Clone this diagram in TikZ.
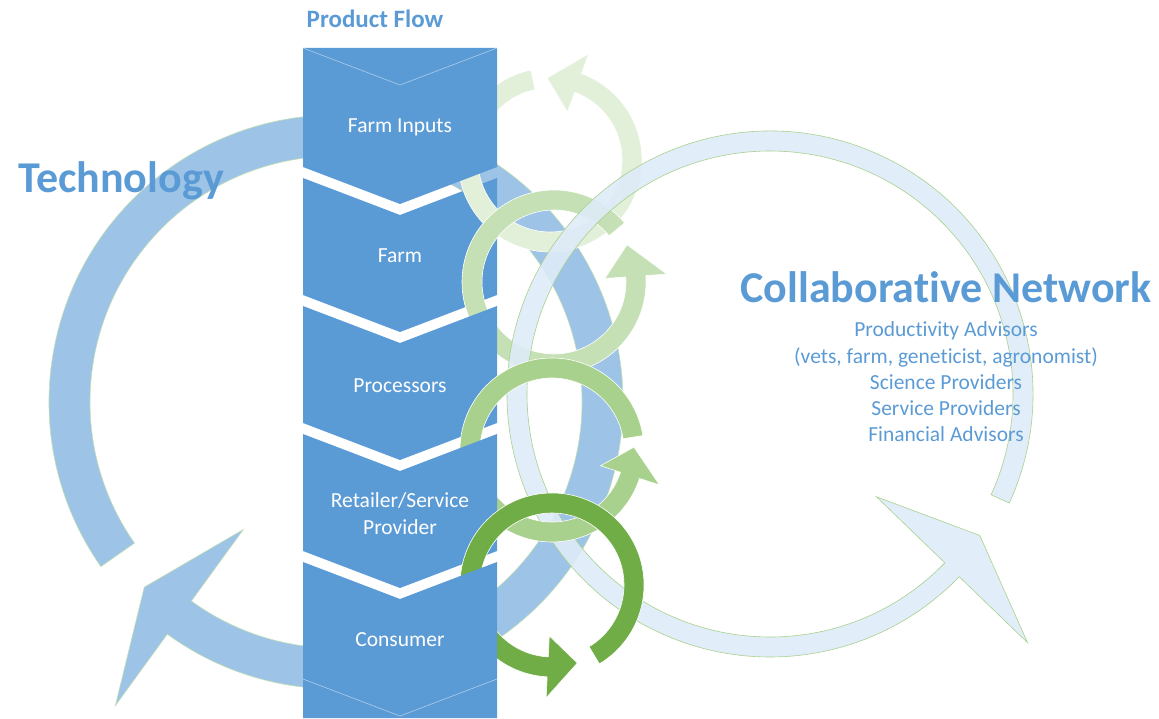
\documentclass[tikz,border=0pt]{standalone}
\usepackage{fontspec}
\setmainfont{Carlito}[Ligatures=NoCommon]
\usetikzlibrary{positioning}

\definecolor{flowblue}{HTML}{5B9BD5}
\definecolor{techblue}{HTML}{9DC3E6}
\definecolor{netblue}{HTML}{DEEBF7}
\definecolor{green1}{HTML}{E2F0D9}
\definecolor{green2}{HTML}{C5E0B4}
\definecolor{green3}{HTML}{A9D18E}
\definecolor{green4}{HTML}{70AD47}

% one step of the product flow, #1 = y of its upper corners
\newcommand{\flowstep}[1]{%
  \fill[stepfill] (303,#1) -- (400,#1-37) -- (497,#1) -- (497,#1-117)
    -- (400,#1-154) -- (303,#1-117) -- cycle;}

% ring with arrow head: style, centre, radius, half width, tail, base, tip, barb
\newcommand{\cyclearrow}[8]{%
  \path[#1, shift={(#2)}] (#5:#3+#4) arc[start angle=#5, end angle=#6, radius=#3+#4]
    -- (#6:#3+#8) -- (#7:#3) -- (#6:#3-#8) -- (#6:#3-#4)
    arc[start angle=#6, end angle=#5, radius=#3-#4] -- cycle;}

\begin{document}
\begin{tikzpicture}[x=1pt, y=1pt,
  stepfill/.style={fill=flowblue},
  stepedge/.style={draw=white, draw opacity=0.5, line width=0.6pt},
  steplabel/.style={text=white, inner sep=0pt, align=center,
    font=\fontsize{21.5}{27}\selectfont},
  techring/.style={fill=techblue, draw=green2, line width=0.6pt},
  netring/.style={fill=netblue, fill opacity=0.9, draw=green3, line width=0.6pt},
  greenring/.style={fill=#1, draw=white, line width=0.6pt},
  heading/.style={text=flowblue, inner sep=0pt,
    font=\bfseries\fontsize{44}{50}\selectfont},
  flowtitle/.style={text=flowblue, inner sep=0pt,
    font=\bfseries\fontsize{25}{30}\selectfont},
  member/.style={text=flowblue, inner sep=0pt, text height=15.5pt, text depth=5pt,
    font=\fontsize{21.5}{26}\selectfont},
  node distance=5.2pt]
 \useasboundingbox (0,0) rectangle (1159,718);

 % technology cycle
 \cyclearrow{techring}{336,316}{266.5}{20.5}{215}{-126}{-136}{109}

 % product flow with the small cycles woven in
 \flowstep{540}
 \cyclearrow{greenring=green1}{550,558}{82}{10}{102}{430}{452}{31}
 \cyclearrow{greenring=green2}{554,436}{82}{10}{40}{364}{387}{31}
 \fill[stepfill] (303,670) -- (497,670) -- (497,551) -- (400,514) -- (303,551) -- cycle;
 \draw[stepedge] (303,670) -- (400,633) -- (497,670);
 \flowstep{412}
 \cyclearrow{netring}{770,324}{253}{10}{-24.5}{316}{326}{105}
 \cyclearrow{greenring=green3}{552,268}{82}{10}{9}{342}{362}{31}
 \flowstep{284}
 \cyclearrow{greenring=green4}{552,133}{82}{10}{-59}{267}{288}{31}
 \fill[stepfill] (303,156) -- (400,119) -- (497,156) -- (497,0) -- (303,0) -- cycle;
 \draw[stepedge] (303,39) -- (400,2) -- (497,39);

 % step labels
 \node[steplabel, anchor=base] (inputs) at (400,585) {Farm Inputs};
 \node[steplabel, anchor=base] (farm) at (400,455) {Farm};
 \node[steplabel, anchor=base] (proc) at (400,325) {Processors};
 \node[steplabel] (retail) at (400,204) {Retailer/Service\\Provider};
 \node[steplabel, anchor=base] (consumer) at (400,72) {Consumer};

 % headings
 \node[flowtitle, anchor=base] (flow) at (375,690) {Product Flow};
 \node[heading, anchor=base] (tech) at (121,525) {Technology};
 \node[heading, anchor=base] (collab) at (946,415) {Collaborative Network};
 \node[member, anchor=base] (adv) at (946,381) {Productivity Advisors};
 \node[member, below=of adv] (advlist) {(vets, farm, geneticist, agronomist)};
 \node[member, below=of advlist] (science) {Science Providers};
 \node[member, below=of science] (service) {Service Providers};
 \node[member, below=of service] (finance) {Financial Advisors};
\end{tikzpicture}
\end{document}
